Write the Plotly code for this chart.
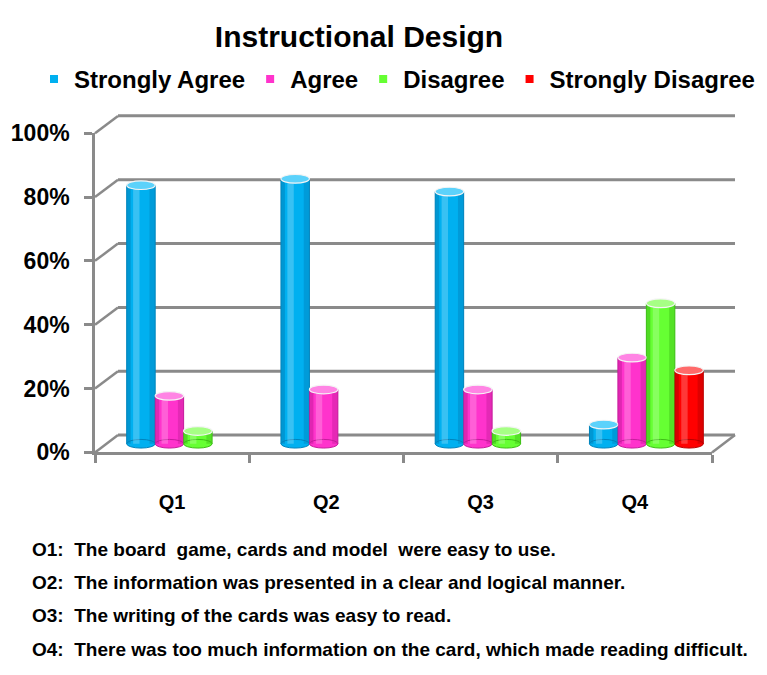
import plotly.graph_objects as go

# ---- data -------------------------------------------------------------
questions = ["Q1", "Q2", "Q3", "Q4"]
series_names = ["Strongly Agree", "Agree", "Disagree", "Strongly Disagree"]
strongly_agree = [0.81, 0.83, 0.79, 0.06]
agree = [0.15, 0.17, 0.17, 0.27]
disagree = [0.04, 0.00, 0.04, 0.44]
strongly_disagree = [0.00, 0.00, 0.00, 0.23]
y_ticks = [0.0, 0.2, 0.4, 0.6, 0.8, 1.0]
notes = [
    "O1:\u00a0 The board\u00a0 game, cards and model\u00a0 were easy to use.",
    "O2:\u00a0 The information was presented in a clear and logical manner.",
    "O3:\u00a0 The writing of the cards was easy to read.",
    "O4:\u00a0 There was too much information on the card, which made reading difficult.",
]
title_text = "Instructional Design"

series_values = [strongly_agree, agree, disagree, strongly_disagree]

# ---- styling ----------------------------------------------------------
base_colors = ["#00B0F0", "#FF33CC", "#66FF33", "#FF0000"]
edge_colors = ["#0083BC", "#C61C9C", "#3DBE16", "#B80000"]
cap_colors = ["#5CD2FB", "#FF84E4", "#A6FF85", "#FF6A6A"]
wall_color = "#8A8A8A"
FONT = "Liberation Sans, Arial, sans-serif"

W, H = 767, 675


def fx(p):
    return p / W


def fy(p):
    return 1 - p / H


# front plane of the box (pixels) and the depth offset to the back wall
FL, FR, FB, FT = 95, 712, 457, 125
DX, DY = 23, 18
BL, BR, BB, BT = FL + DX, FR + DX, FB - DY, FT - DY
# bars stand half way into the box
ML, MR, MB, MT = FL + DX / 2, FR + DX / 2, FB - DY / 2, FT - DY / 2


def y_domain(p0, p1, lo, hi):
    scale = p0 - p1
    return [fy(p0 - lo * scale), fy(p0 - hi * scale)]


BAR_LO, BAR_HI = -0.04, 1.02
WALL_LO, WALL_HI = -0.02, 1.02

bargap = 0.262
n_series = len(series_names)
slot = (1 - bargap) / n_series

fig = go.Figure()

# front frame subplot (axis lines, ticks and labels)
fig.add_trace(go.Scatter(x=[None], y=[None], xaxis="x", yaxis="y",
                         showlegend=False, hoverinfo="skip"))
# back wall subplot
fig.add_trace(go.Scatter(x=[None], y=[None], xaxis="x2", yaxis="y2",
                         showlegend=False, hoverinfo="skip"))

# cylinder bars
for k, (name, vals) in enumerate(zip(series_names, series_values)):
    fig.add_trace(go.Bar(
        x=questions, y=vals, name=name, xaxis="x3", yaxis="y3",
        marker=dict(color=base_colors[k],
                    line=dict(color=edge_colors[k],
                              width=[1 if v > 0 else 0 for v in vals])),
        showlegend=False,
        hovertemplate="%{x}: %{y:.0%}<extra>" + name + "</extra>",
    ))

# legend entries with small square keys
for k, name in enumerate(series_names):
    fig.add_trace(go.Scatter(
        x=[None], y=[None], xaxis="x3", yaxis="y3", name=name, mode="markers",
        marker=dict(symbol="square", size=8, color=base_colors[k]),
    ))

shapes = []

# back wall gridlines
for v in y_ticks:
    shapes.append(dict(type="line", xref="x2 domain", yref="y2", x0=0, x1=1,
                       y0=v, y1=v, line=dict(color=wall_color, width=3),
                       layer="below"))


def front_y(v):
    return FB - v * (FB - FT)


# side wall diagonals and floor edge
for v in y_ticks:
    shapes.append(dict(type="line", xref="paper", yref="paper",
                       x0=fx(FL), y0=fy(front_y(v)),
                       x1=fx(BL), y1=fy(front_y(v) - DY),
                       line=dict(color=wall_color, width=2.5), layer="below"))
shapes.append(dict(type="line", xref="paper", yref="paper",
                   x0=fx(FR), y0=fy(FB), x1=fx(BR), y1=fy(BB),
                   line=dict(color=wall_color, width=2.5), layer="below"))

# cylinder shading, bottoms and top caps
dy_cap = 4.5 / (MB - MT)
for k, vals in enumerate(series_values):
    for i, v in enumerate(vals):
        if v <= 0:
            continue
        cx = i - (1 - bargap) / 2 + (k + 0.5) * slot
        half = slot / 2
        # rounded bottom
        shapes.append(dict(type="circle", xref="x3", yref="y3",
                           x0=cx - half, x1=cx + half, y0=-dy_cap, y1=dy_cap,
                           fillcolor=base_colors[k],
                           line=dict(color=edge_colors[k], width=1)))
        # left shadow edge
        shapes.append(dict(type="rect", xref="x3", yref="y3",
                           x0=cx - half, x1=cx - half * 0.72, y0=0, y1=v,
                           fillcolor=edge_colors[k], opacity=0.55,
                           line=dict(width=0)))
        # highlight
        shapes.append(dict(type="rect", xref="x3", yref="y3",
                           x0=cx - half * 0.55, x1=cx - half * 0.1, y0=0, y1=v,
                           fillcolor="white", opacity=0.22,
                           line=dict(width=0)))
        # right shadow edge
        shapes.append(dict(type="rect", xref="x3", yref="y3",
                           x0=cx + half * 0.6, x1=cx + half, y0=0, y1=v,
                           fillcolor=edge_colors[k], opacity=0.45,
                           line=dict(width=0)))
        # top cap
        shapes.append(dict(type="circle", xref="x3", yref="y3",
                           x0=cx - half, x1=cx + half,
                           y0=v - dy_cap, y1=v + dy_cap,
                           fillcolor=cap_colors[k],
                           line=dict(color="#F4F4F4", width=1.2)))

annotations = []
note_rows = [558, 592, 627, 662]
for txt, row in zip(notes, note_rows):
    annotations.append(dict(text=txt, xref="paper", yref="paper",
                            x=fx(30), y=fy(row), xanchor="left", yanchor="middle",
                            showarrow=False,
                            font=dict(family=FONT, size=19, color="black",
                                      weight="bold")))

axis_line = dict(showline=True, linecolor=wall_color, linewidth=2.5)

fig.update_layout(
    width=W, height=H,
    margin=dict(l=0, r=0, t=0, b=0),
    paper_bgcolor="white", plot_bgcolor="rgba(0,0,0,0)",
    barmode="group", bargap=bargap, bargroupgap=0,
    title=dict(text=title_text, x=fx(359), y=fy(24), xanchor="center",
               yanchor="middle", xref="paper", yref="paper",
               font=dict(family=FONT, size=30, color="black", weight="bold")),
    legend=dict(orientation="h", x=fx(34), y=fy(69), xanchor="left",
                yanchor="middle", bgcolor="rgba(0,0,0,0)", traceorder="normal",
                font=dict(family=FONT, size=24, color="black", weight="bold")),
    xaxis=dict(domain=[fx(FL), fx(FR)], range=[-0.5, 3.5], anchor="y",
               tickmode="array", tickvals=[0, 1, 2, 3], ticktext=questions,
               ticks="", ticklabelstandoff=30, showgrid=False, zeroline=False,
               fixedrange=True,
               minor=dict(tickmode="array", tickvals=[-0.5, 0.5, 1.5, 2.5, 3.5],
                          ticks="outside", ticklen=8, tickwidth=2.5,
                          tickcolor=wall_color, showgrid=False),
               tickfont=dict(family=FONT, size=20, color="black", weight="bold"),
               **axis_line),
    yaxis=dict(domain=[fy(FB), fy(FT)], range=[0, 1], anchor="x",
               tickmode="array", tickvals=y_ticks, tickformat=".0%",
               ticks="outside", ticklen=8, tickwidth=2.5, tickcolor=wall_color,
               ticklabelstandoff=10, showgrid=False, zeroline=False,
               fixedrange=True,
               tickfont=dict(family=FONT, size=23, color="black", weight="bold"),
               **axis_line),
    xaxis2=dict(domain=[fx(BL), fx(BR)], range=[0, 1], anchor="y2",
                visible=False, fixedrange=True),
    yaxis2=dict(domain=y_domain(BB, BT, WALL_LO, WALL_HI),
                range=[WALL_LO, WALL_HI], anchor="x2", visible=False,
                fixedrange=True),
    xaxis3=dict(domain=[fx(ML), fx(MR)], range=[-0.5, 3.5], anchor="y3",
                type="category", categoryorder="array", categoryarray=questions,
                visible=False, fixedrange=True),
    yaxis3=dict(domain=y_domain(MB, MT, BAR_LO, BAR_HI),
                range=[BAR_LO, BAR_HI], anchor="x3", visible=False,
                fixedrange=True),
    shapes=shapes,
    annotations=annotations,
)

fig.write_html("out.html")
